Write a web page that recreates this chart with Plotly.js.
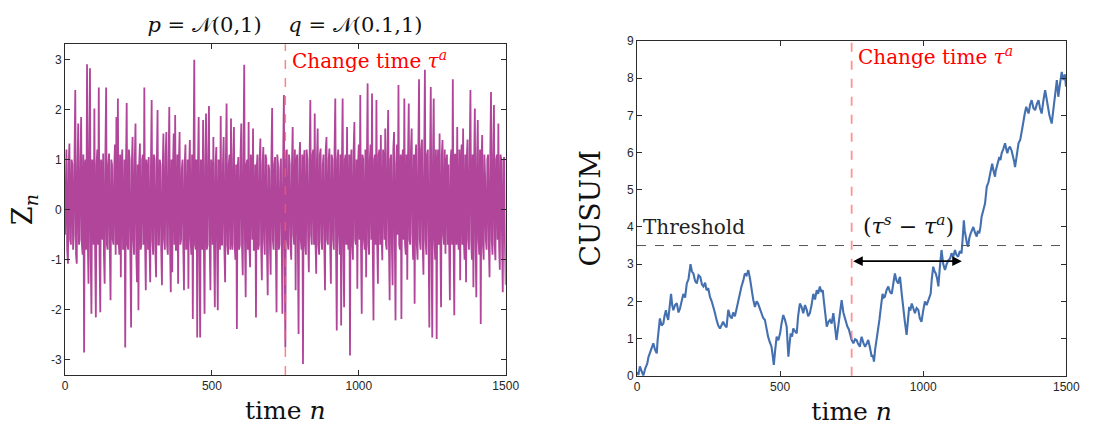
<!DOCTYPE html>
<html>
<head>
<meta charset="utf-8">
<script src="https://cdn.plot.ly/plotly-3.0.1.min.js"></script>
<style>
html,body{margin:0;padding:0;background:#fff;}
#chart{width:1096px;height:426px;}
</style>
</head>
<body>
<div id="chart"></div>
<script>
// ---- Data ----
const zStep = 2.5; // observations sampled every 2.5 time steps
const zValues = [
-0.5,0.7,1.2,-0.8,-1.08,0.9,1.32,-0.6,-0.7,1.0,0.9,-0.8,-0.5,1.1,2.39,-0.9,-1.08,0.8,1.72,-0.7,
-0.6,1.0,1.85,-0.7,-0.9,1.1,-2.85,0.9,1.0,-0.8,2.9,-0.6,-1.48,1.2,2.82,-0.9,-2.08,1.0,0.8,-0.7,
2.02,-0.8,-2.15,0.9,1.2,-0.7,2.44,-0.9,-2.05,1.0,0.9,-0.6,1.12,-0.9,-1.48,1.1,2.44,-0.7,-0.8,0.9,
1.12,-0.8,-1.81,1.0,0.9,-0.6,-0.7,0.8,1.3,-0.9,1.85,-0.7,2.22,-0.6,-0.9,1.1,-1.35,0.9,1.2,-0.8,
-0.6,1.0,-2.75,0.8,2.13,-0.7,-0.8,1.2,1.0,-0.9,-2.35,0.9,1.45,-0.6,-0.9,1.0,1.72,-0.8,-1.45,0.9,
-2.01,0.9,1.32,-0.8,-0.7,1.0,1.1,-0.7,2.44,-0.6,-1.61,1.0,0.8,-0.8,1.05,-0.7,-1.45,0.9,2.19,-0.6,
-0.9,1.1,1.0,-0.8,-1.35,0.9,1.99,-0.7,-0.7,1.0,0.9,-0.8,-1.51,0.8,1.52,-0.6,-0.8,1.1,1.55,-0.7,
-0.9,0.9,2.05,-0.7,-1.65,1.0,-1.25,0.8,1.52,-0.7,1.89,-0.8,-0.8,1.1,-1.48,0.9,1.55,-0.7,-0.6,0.8,
1.0,-0.7,-1.61,0.9,1.3,-0.8,-0.7,1.0,-1.58,0.8,1.39,-0.6,-0.9,1.1,-2.18,0.9,2.99,-0.7,-0.8,1.0,
-2.55,0.8,1.85,-0.7,-2.55,1.0,0.9,-0.8,1.79,-0.6,-2.08,0.9,1.92,-0.8,-0.7,1.1,2.07,-0.7,-1.61,1.0,
0.8,-0.7,1.45,-0.8,-1.95,0.9,1.25,-0.6,-2.01,1.0,0.9,-0.8,1.87,-0.7,-0.7,0.9,1.45,-0.8,-1.45,1.0,
2.12,-0.7,-0.9,0.9,1.1,-0.8,1.82,-0.6,-0.8,1.0,1.65,-0.7,-1.0,0.9,-2.38,0.8,1.05,-0.8,-0.7,1.1,
1.72,-0.7,-1.31,1.0,2.89,-0.6,-1.75,0.9,1.0,-0.8,1.75,-0.7,-1.15,1.1,0.9,-0.6,1.62,-0.8,-0.8,0.9,
-2.15,0.8,1.1,-0.8,-0.7,1.0,1.42,-0.7,-1.41,0.9,1.25,-0.6,-0.9,1.1,1.02,-0.8,-1.71,0.9,0.8,-0.7,
-1.3,1.0,2.03,-0.6,-0.8,0.9,1.05,-0.7,-2.05,1.1,0.9,-0.8,-0.7,0.8,1.02,-0.6,-2.08,1.0,2.29,-0.7,
-2.75,1.0,1.2,-0.6,-0.8,1.1,0.9,-0.7,-1.0,0.9,1.65,-0.5,-0.7,1.2,-1.61,0.9,1.1,-0.6,-2.48,1.0,
1.35,-0.6,-0.8,1.1,-3.08,0.9,1.19,-0.7,-0.9,1.2,1.0,-0.6,-1.25,1.0,2.19,-0.5,-0.7,1.1,1.2,-0.7,
1.92,-0.6,-1.28,1.0,1.62,-0.7,-0.9,1.1,1.22,-0.6,-0.8,0.9,1.1,-0.7,-1.61,1.2,1.45,-0.6,-0.7,1.0,
1.22,-0.7,-1.48,1.1,1.0,-0.6,-0.8,1.2,2.22,-0.7,-2.41,1.0,1.2,-0.5,-0.9,1.1,-2.31,0.9,2.22,-0.7,
-1.95,1.0,1.1,-0.7,1.65,-0.6,-0.8,1.1,-2.91,0.9,1.2,-0.7,-1.0,1.2,1.75,-0.6,-0.7,1.0,-1.58,0.9,
1.3,-0.6,2.29,-0.7,-2.08,1.1,1.0,-0.6,-0.8,1.2,-1.35,0.9,2.52,-0.7,-0.9,1.0,1.3,-0.6,2.32,-0.8,
-2.21,1.0,1.1,-0.7,2.19,-0.6,-1.48,1.1,1.2,-0.7,1.49,-0.5,-1.01,1.2,1.0,-0.6,1.62,-0.7,-0.8,1.1,
1.99,-0.6,-1.81,1.0,1.1,-0.7,-1.51,1.2,1.55,-0.6,-2.21,0.9,1.3,-0.5,2.49,-0.7,-0.8,1.1,-2.18,0.9,
1.2,-0.6,2.22,-0.7,-0.9,1.1,-1.4,1.0,2.12,-0.6,-0.7,1.2,1.62,-0.5,-1.0,1.1,-1.88,0.9,1.3,-0.7,
-1.0,1.1,2.6,-0.6,-0.8,1.2,1.4,-0.7,-1.3,1.0,2.79,-0.6,-0.9,1.1,1.2,-0.6,-2.35,1.0,2.45,-0.7,
-2.55,1.0,2.22,-0.6,-1.0,1.2,-2.58,0.9,1.2,-0.7,1.52,-0.6,-1.95,1.1,1.39,-0.5,-0.7,1.2,-0.88,0.9,
1.1,-0.7,0.9,-0.6,-1.81,1.0,1.2,-0.7,2.6,-0.6,-2.11,1.1,1.1,-0.7,1.65,-0.5,-0.8,1.2,-1.41,0.9,
1.3,-0.7,1.62,-0.6,-1.0,1.1,-1.45,1.0,1.4,-0.6,-0.8,1.2,2.39,-0.6,-1.0,1.1,-1.55,0.9,2.02,-0.7,
-1.75,1.0,1.79,-0.6,-0.9,1.2,-2.28,0.9,1.49,-0.7,-1.0,1.1,0.65,-0.6,-0.8,1.0,1.1,-0.7,-1.35,1.1,
2.35,-0.6,-0.9,1.1,2.09,-0.7,-1.01,1.0,1.1,-0.6,1.72,-0.7,-1.2,1.1,1.0,-0.6,-1.65,1.0,1.05,-0.7,
-1.5
];
const cusumN = [
0,5,10,16,22,29,36,40,45,51,57,63,69,72,75,78,80,86,92,96,
101,105,109,114,119,123,127,133,139,145,150,156,162,168,174,180,187,192,197,203,
209,215,221,227,232,238,243,249,255,261,267,272,278,284,290,296,301,307,313,316,
319,325,331,336,342,348,354,360,365,371,377,383,389,395,400,406,412,418,423,429,
435,441,447,452,458,464,470,474,478,483,488,494,500,505,511,517,523,526,529,533,
537,542,546,552,558,563,569,575,581,587,593,598,604,610,616,622,628,633,639,644,
649,653,657,660,663,669,674,680,686,692,697,702,707,711,715,721,727,731,735,740,
744,747,750,753,756,762,767,773,779,782,785,791,797,802,808,814,820,824,828,832,
837,840,843,847,851,855,858,862,866,872,878,884,890,896,901,907,913,916,919,925,
930,936,942,946,951,955,960,966,971,977,983,988,994,1000,1006,1012,1018,1022,1026,1030,
1035,1040,1044,1049,1053,1058,1064,1070,1076,1082,1088,1094,1099,1105,1111,1116,1122,1128,1134,1138,
1142,1145,1149,1153,1157,1161,1166,1170,1175,1181,1187,1191,1196,1200,1204,1210,1216,1219,1222,1228,
1233,1237,1241,1246,1251,1253,1256,1261,1266,1270,1274,1280,1286,1290,1294,1298,1303,1309,1315,1318,
1321,1327,1333,1336,1339,1345,1350,1355,1360,1364,1368,1374,1379,1385,1391,1397,1403,1408,1414,1420,
1426,1430,1434,1441,1449,1452,1455,1461,1467,1470,1472,1478,1484,1487,1490,1495,1499];
const cusumVal = [
0.1,0.02,0.25,0.12,0.0,0.2,0.33,0.5,0.6,0.75,0.87,0.7,0.6,0.95,1.23,1.35,1.54,1.35,1.4,1.6,
1.76,1.6,1.5,1.85,2.2,1.9,1.76,1.9,1.95,1.7,1.8,2.0,2.2,2.1,2.48,2.6,3.0,2.8,2.75,2.55,
2.48,2.7,2.66,2.45,2.4,2.5,2.3,2.35,2.12,2.0,1.85,1.7,1.5,1.35,1.27,1.38,1.45,1.35,1.3,1.55,
1.77,1.6,1.54,1.7,1.6,1.8,2.03,2.2,2.4,2.55,2.75,2.7,2.84,2.6,2.3,2.05,1.85,2.0,1.94,1.8,
1.68,1.55,1.5,1.25,1.05,0.9,0.78,0.55,0.29,0.7,1.05,0.95,1.14,1.4,1.63,1.5,1.32,0.9,0.51,0.85,
1.14,1.05,1.27,1.2,1.14,1.6,1.94,1.85,1.68,1.9,1.77,1.6,1.68,1.9,2.2,2.05,2.3,2.2,2.4,2.25,
2.3,2.0,1.77,1.5,1.32,1.45,1.5,1.4,1.68,1.3,0.96,1.25,1.5,1.8,2.03,1.7,1.5,1.4,1.32,1.25,
1.14,1.0,0.96,0.92,0.87,0.98,0.96,0.85,0.78,0.95,1.05,0.88,0.78,0.85,0.96,0.75,0.51,0.55,0.38,0.7,
0.96,1.05,1.23,1.5,1.77,2.0,2.2,2.1,2.12,2.3,2.4,2.25,2.2,2.5,2.75,2.55,2.48,2.6,2.66,2.2,
1.77,1.45,1.1,1.5,1.85,1.75,1.94,1.8,1.68,1.82,1.77,1.55,1.45,1.75,2.0,1.9,2.03,2.1,2.2,2.6,
2.93,2.8,2.75,2.6,2.4,2.9,3.38,3.0,2.84,3.0,3.1,3.15,3.29,3.2,3.38,3.25,3.2,3.35,3.29,3.7,
4.18,3.9,3.65,3.55,3.47,3.7,3.83,3.9,4.0,3.85,3.74,3.9,3.83,4.0,4.27,4.45,4.63,4.85,5.08,5.2,
5.44,5.6,5.7,5.5,5.35,5.5,5.61,5.75,5.88,5.8,5.98,6.1,6.25,6.1,5.98,6.1,6.16,6.05,5.88,5.75,
5.61,5.95,6.25,6.3,6.34,6.6,6.87,7.05,7.23,7.1,7.05,7.3,7.41,7.2,7.14,7.3,7.41,7.2,7.05,7.4,
7.68,7.5,7.32,7.0,6.78,7.0,7.23,7.6,7.95,7.7,7.5,7.85,8.17,8.05,7.95,8.1,7.77];
const changeTime = 750;
const threshold = 3.5;
const stopTime = 1135;
const arrowLevel = 3.08;
const xTicks = [0, 500, 1000, 1500];
const zTicks = [-3, -2, -1, 0, 1, 2, 3];
const zTickText = ['-3', '-2', '-1', '0', '1', '2', '3'];
const cTicks = [0, 1, 2, 3, 4, 5, 6, 7, 8, 9];

// ---- Build ----
const zN = zValues.map((v, i) => i * zStep);
const W = 1096, H = 426;
const fx = p => p / W, fy = p => 1 - p / H;

const serif = '"DejaVu Serif", "Liberation Serif", serif';
const tickFont = {family: '"Liberation Sans", Arial, sans-serif', size: 12, color: '#262626'};
const axisBase = {
  showline: true, linecolor: '#2b2b2b', linewidth: 1, mirror: 'ticks',
  ticks: 'inside', ticklen: 5, tickcolor: '#2b2b2b', tickwidth: 1,
  showgrid: false, zeroline: false, tickfont: tickFont, fixedrange: true
};

const traces = [
  {x: zN, y: zValues, type: 'scatter', mode: 'lines', xaxis: 'x', yaxis: 'y',
   line: {color: '#b0459a', width: 1.8}, hoverinfo: 'skip'},
  {x: cusumN, y: cusumVal, type: 'scatter', mode: 'lines', xaxis: 'x2', yaxis: 'y2',
   line: {color: '#4470b0', width: 2.1}, hoverinfo: 'skip'}
];

const layout = {
  width: W, height: H,
  margin: {l: 0, r: 0, t: 0, b: 0},
  paper_bgcolor: '#fff', plot_bgcolor: '#fff',
  showlegend: false,
  title: {
    text: '<i>p</i> = \uD835\uDCA9(0,1)\u00A0\u00A0\u00A0\u00A0<i>q</i> = \uD835\uDCA9(0.1,1)',
    font: {family: serif, size: 21, color: '#111'},
    x: fx(285), xanchor: 'center', y: fy(25), yanchor: 'middle'
  },
  xaxis: Object.assign({}, axisBase, {
    domain: [fx(65), fx(505.7)], range: [0, 1500], tickvals: xTicks, anchor: 'y',
    title: {text: 'time <i>n</i>', font: {family: serif, size: 25, color: '#111'}, standoff: 9}
  }),
  yaxis: Object.assign({}, axisBase, {
    domain: [fy(375), fy(44.3)], range: [-3.3, 3.3], tickvals: zTicks, ticktext: zTickText, anchor: 'x',
    title: {text: 'Z<sub><i>n</i></sub>', font: {family: serif, size: 27, color: '#111'}, standoff: 10}
  }),
  xaxis2: Object.assign({}, axisBase, {
    domain: [fx(637), fx(1066.3)], range: [0, 1500], tickvals: xTicks, anchor: 'y2',
    title: {text: 'time <i>n</i>', font: {family: serif, size: 25, color: '#111'}, standoff: 9}
  }),
  yaxis2: Object.assign({}, axisBase, {
    domain: [fy(375.7), fy(41)], range: [0, 9], tickvals: cTicks, anchor: 'x2',
    title: {text: 'CUSUM', font: {family: serif, size: 28, color: '#111'}, standoff: 18}
  }),
  shapes: [
    {type: 'line', xref: 'x', yref: 'y domain', x0: changeTime, x1: changeTime, y0: 0, y1: 1,
     line: {color: 'rgba(255,90,90,0.75)', width: 1.5, dash: 'dash'}},
    {type: 'line', xref: 'x2', yref: 'y2 domain', x0: changeTime, x1: changeTime, y0: 0, y1: 1,
     line: {color: 'rgba(255,110,110,0.75)', width: 1.8, dash: 'dash'}},
    {type: 'line', xref: 'x2 domain', yref: 'y2', x0: 0, x1: 1, y0: threshold, y1: threshold,
     line: {color: '#555', width: 1, dash: 'dash'}}
  ],
  annotations: [
    {xref: 'x', yref: 'y', x: changeTime + 15, y: 2.98, xanchor: 'left', yanchor: 'middle',
     text: 'Change time <i>τ</i><sup><i>a</i></sup>', showarrow: false,
     font: {family: serif, size: 20, color: '#ff0000'}},
    {xref: 'x2', yref: 'y2', x: changeTime + 15, y: 8.6, xanchor: 'left', yanchor: 'middle',
     text: 'Change time <i>τ</i><sup><i>a</i></sup>', showarrow: false,
     font: {family: serif, size: 20, color: '#ff0000'}},
    {xref: 'x2', yref: 'y2', x: 15, y: 4.0, xanchor: 'left', yanchor: 'middle',
     text: 'Threshold', showarrow: false,
     font: {family: serif, size: 20, color: '#222'}},
    {xref: 'x2', yref: 'y2', x: 947, y: 4.05, xanchor: 'center', yanchor: 'middle',
     text: '(<i>τ</i><sup><i>s</i></sup> − <i>τ</i><sup><i>a</i></sup>)', showarrow: false,
     font: {family: serif, size: 22, color: '#111'}},
    {xref: 'x2', yref: 'y2', axref: 'x2', ayref: 'y2',
     x: stopTime, y: arrowLevel, ax: changeTime, ay: arrowLevel,
     text: '', showarrow: true, arrowhead: 2, startarrowhead: 2, arrowside: 'end+start',
     arrowsize: 1.2, startarrowsize: 1.2, arrowwidth: 1.6, arrowcolor: '#000'}
  ]
};

Plotly.newPlot('chart', traces, layout, {displayModeBar: false, staticPlot: true});
</script>
</body>
</html>
